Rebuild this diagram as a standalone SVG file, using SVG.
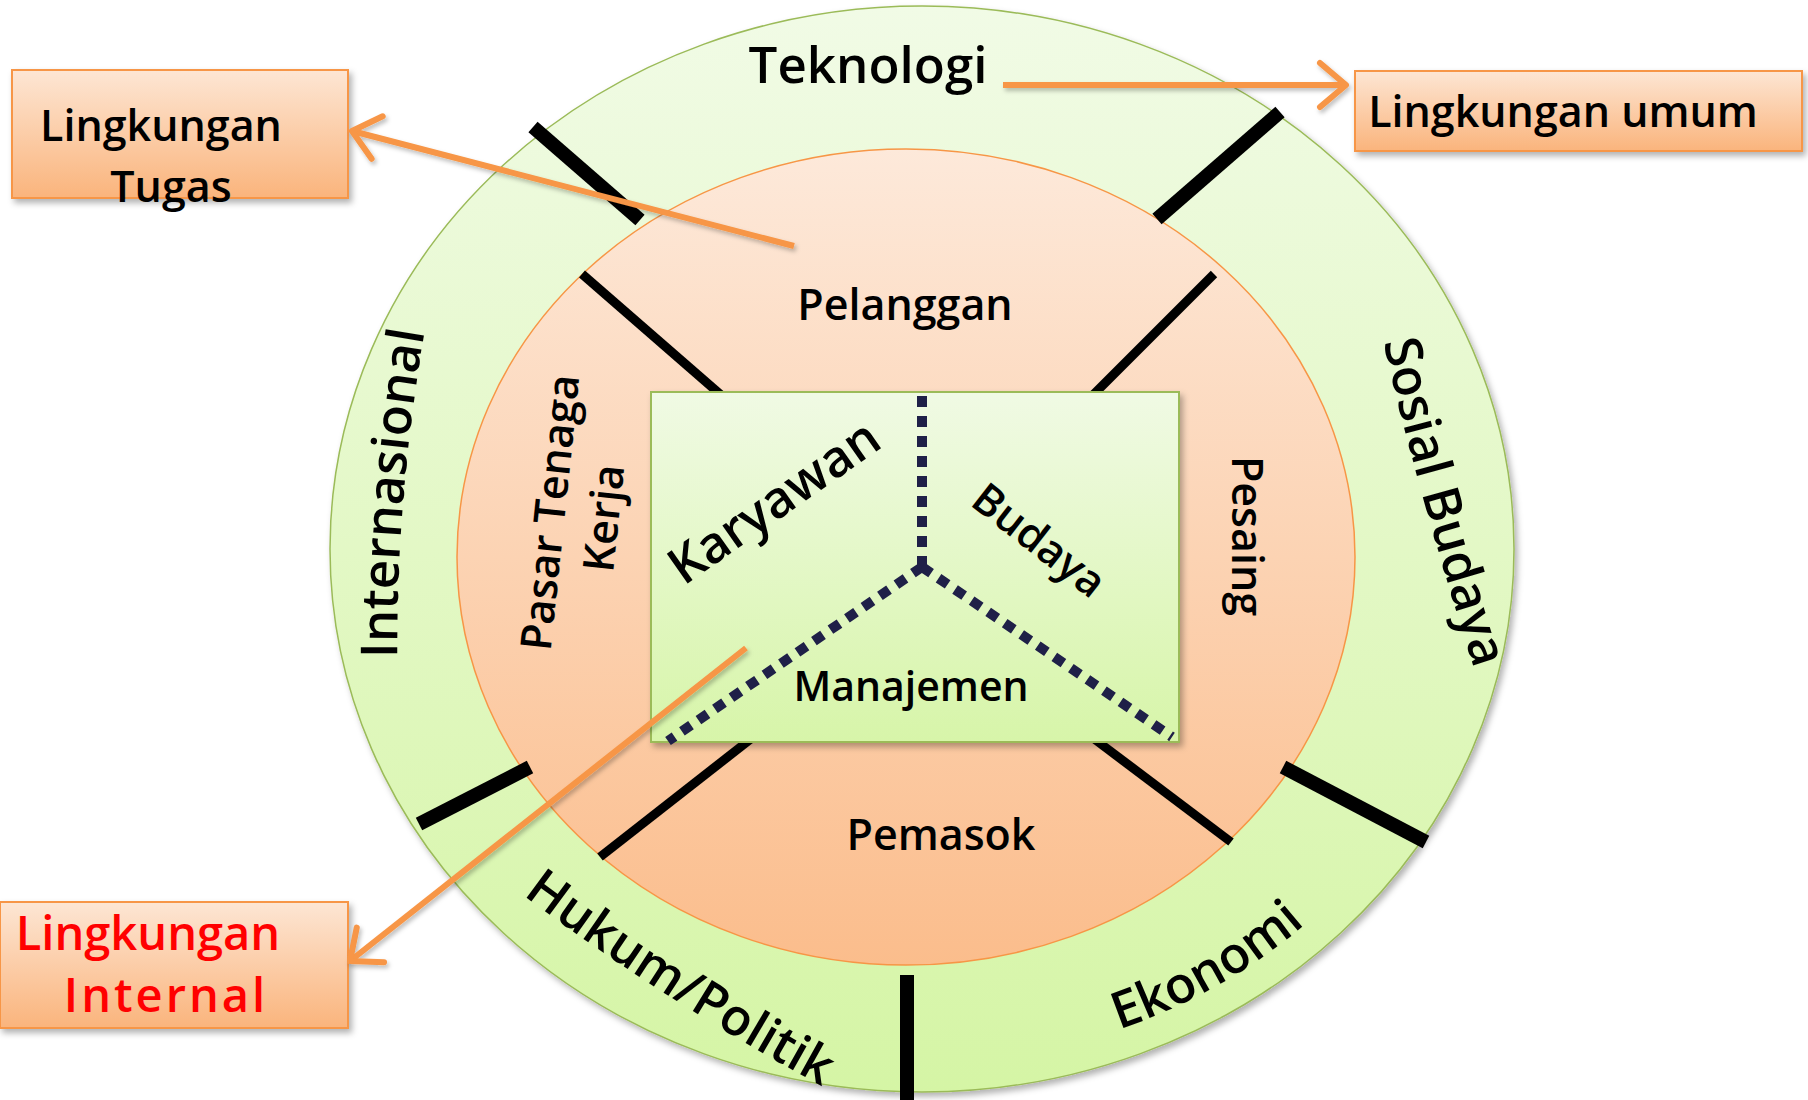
<svg xmlns="http://www.w3.org/2000/svg" width="1808" height="1100" viewBox="0 0 1808 1100">
  <defs>
    <linearGradient id="gOuter" x1="0" y1="0" x2="0" y2="1">
      <stop offset="0" stop-color="#f1fbe6"/>
      <stop offset="1" stop-color="#d5f5a5"/>
    </linearGradient>
    <linearGradient id="gInner" x1="0" y1="0" x2="0" y2="1">
      <stop offset="0" stop-color="#fde9da"/>
      <stop offset="1" stop-color="#fbbd8c"/>
    </linearGradient>
    <linearGradient id="gRect" x1="0" y1="0" x2="0" y2="1">
      <stop offset="0" stop-color="#f0fae4"/>
      <stop offset="1" stop-color="#d7f5a9"/>
    </linearGradient>
    <linearGradient id="gBox" x1="0" y1="0" x2="0" y2="1">
      <stop offset="0" stop-color="#fde6d4"/>
      <stop offset="1" stop-color="#fab47c"/>
    </linearGradient>
    <filter id="shadow" x="-10%" y="-10%" width="130%" height="130%">
      <feDropShadow dx="3" dy="4" stdDeviation="3" flood-color="#000" flood-opacity="0.3"/>
    </filter>
    <!-- user-space region so that horizontal lines keep their shadow -->
    <filter id="lineShadow" filterUnits="userSpaceOnUse" x="0" y="0" width="1808" height="1100">
      <feDropShadow dx="2" dy="3" stdDeviation="2" flood-color="#000" flood-opacity="0.25"/>
    </filter>
    <marker id="head" markerUnits="userSpaceOnUse" viewBox="-34 -28 40 56" refX="0" refY="0" markerWidth="40" markerHeight="56" orient="auto">
      <path d="M-26,-22 L0,0 L-26,22" fill="none" stroke="#f79646" stroke-width="6" stroke-linecap="round" stroke-linejoin="round"/>
    </marker>
    <!-- baselines for the curved ring labels -->
    <path id="pInternasional" d="M 398 700 Q 392 500 432 290"/>
    <path id="pSosial" d="M 1372 285 Q 1400 440 1492 725"/>
    <path id="pHukum" d="M 480 862 Q 655 1000 870 1112"/>
    <path id="pEkonomi" d="M 824.4 1054.2 A 562 513 0 0 0 1456.5 707.5"/>
  </defs>
  <style>
    text { font-family: "Open Sans", "DejaVu Sans", sans-serif; font-weight: 600; fill: #000; }
    .ring { font-size: 51px; }
    .task { font-size: 43px; }
    .box { fill: url(#gBox); stroke: #f79646; stroke-width: 2; filter: url(#shadow); }
    .boxText { font-size: 43px; }
    .red { fill: #ff0000; font-size: 47px; }
    .sepOuter { stroke: #000; stroke-width: 14; }
    .sepInner { stroke: #000; stroke-width: 9; }
    .dash { stroke: #1f2048; stroke-width: 10; stroke-dasharray: 11 9; fill: none; }
    .arrow { stroke: #f79646; stroke-width: 6; fill: none; marker-end: url(#head); filter: url(#lineShadow); }
  </style>

  <rect width="1808" height="1100" fill="#ffffff"/>

  <!-- general environment ring -->
  <g id="umum">
    <ellipse cx="922" cy="549" rx="592" ry="543" fill="url(#gOuter)" stroke="#9bbb59" stroke-width="1.5" filter="url(#shadow)"/>
  </g>

  <!-- task environment circle -->
  <g id="tugas">
    <ellipse cx="906" cy="557" rx="449" ry="408" fill="url(#gInner)" stroke="#f79646" stroke-width="1.5"/>
  </g>

  <!-- sector dividers -->
  <g id="dividers">
    <line class="sepOuter" x1="533" y1="127" x2="640" y2="220"/>
    <line class="sepOuter" x1="1280" y1="112" x2="1157" y2="219"/>
    <line class="sepOuter" x1="419" y1="824" x2="530" y2="767"/>
    <line class="sepOuter" x1="1283" y1="767" x2="1426" y2="842"/>
    <line class="sepOuter" x1="907" y1="975" x2="907" y2="1100"/>
    <line class="sepInner" x1="582" y1="274" x2="721" y2="395"/>
    <line class="sepInner" x1="1214" y1="274" x2="1093" y2="395"/>
    <line class="sepInner" x1="600" y1="857" x2="752" y2="738"/>
    <line class="sepInner" x1="1093" y1="738" x2="1231" y2="842"/>
  </g>

  <!-- internal environment -->
  <g id="internal">
    <rect x="651" y="392" width="528" height="350" fill="url(#gRect)" stroke="#9bbb59" stroke-width="2" filter="url(#shadow)"/>
    <path class="dash" d="M 922 396 L 922 567"/>
    <path class="dash" d="M 922 567 L 668 741"/>
    <path class="dash" d="M 922 567 L 1172 737"/>
  </g>

  <!-- label boxes -->
  <g id="boxTugas">
    <rect class="box" x="12" y="70" width="336" height="128"/>
    <text class="boxText" x="161" y="141" text-anchor="middle">Lingkungan</text>
    <text class="boxText" x="171" y="202" text-anchor="middle">Tugas</text>
  </g>
  <g id="boxUmum">
    <rect class="box" x="1355" y="71" width="447" height="80"/>
    <text class="boxText" x="1563" y="127" text-anchor="middle">Lingkungan umum</text>
  </g>
  <g id="boxInternal">
    <rect class="box" x="0" y="902" width="348" height="126"/>
    <text class="red" x="148" y="950" text-anchor="middle">Lingkungan</text>
    <text class="red" x="166" y="1012" text-anchor="middle" letter-spacing="3">Internal</text>
  </g>

  <!-- connectors -->
  <g id="connectors">
    <path class="arrow" d="M 1003 85 L 1346 85"/>
    <path class="arrow" d="M 794 246 L 352 131"/>
    <path class="arrow" d="M 746 648 L 350 961"/>
  </g>

  <!-- ring labels -->
  <g id="ringLabels">
    <text class="ring" x="868" y="83" text-anchor="middle">Teknologi</text>
    <text class="ring"><textPath href="#pInternasional" startOffset="50%" text-anchor="middle">Internasional</textPath></text>
    <text class="ring"><textPath href="#pSosial" startOffset="50%" text-anchor="middle">Sosial Budaya</textPath></text>
    <text class="ring"><textPath href="#pHukum" startOffset="50%" text-anchor="middle">Hukum/Politik</textPath></text>
    <text class="ring"><textPath href="#pEkonomi" startOffset="52%" text-anchor="middle">Ekonomi</textPath></text>
  </g>

  <!-- task environment labels -->
  <g id="taskLabels">
    <text class="task" x="905" y="320" text-anchor="middle">Pelanggan</text>
    <text class="task" x="941" y="850" text-anchor="middle">Pemasok</text>
    <text class="task" transform="translate(1232,536) rotate(90)" text-anchor="middle">Pesaing</text>
    <g transform="rotate(-84 565 514)">
      <text class="task" x="565" y="514" text-anchor="middle" font-size="45">Pasar Tenaga</text>
      <text class="task" x="565" y="568" text-anchor="middle" font-size="45">Kerja</text>
    </g>
  </g>

  <!-- internal labels -->
  <g id="internalLabels">
    <text transform="translate(784,516) rotate(-35)" text-anchor="middle" font-size="51">Karyawan</text>
    <text transform="translate(1030,552) rotate(38)" text-anchor="middle" font-size="43">Budaya</text>
    <text x="911" y="701" text-anchor="middle" font-size="41">Manajemen</text>
  </g>
</svg>
